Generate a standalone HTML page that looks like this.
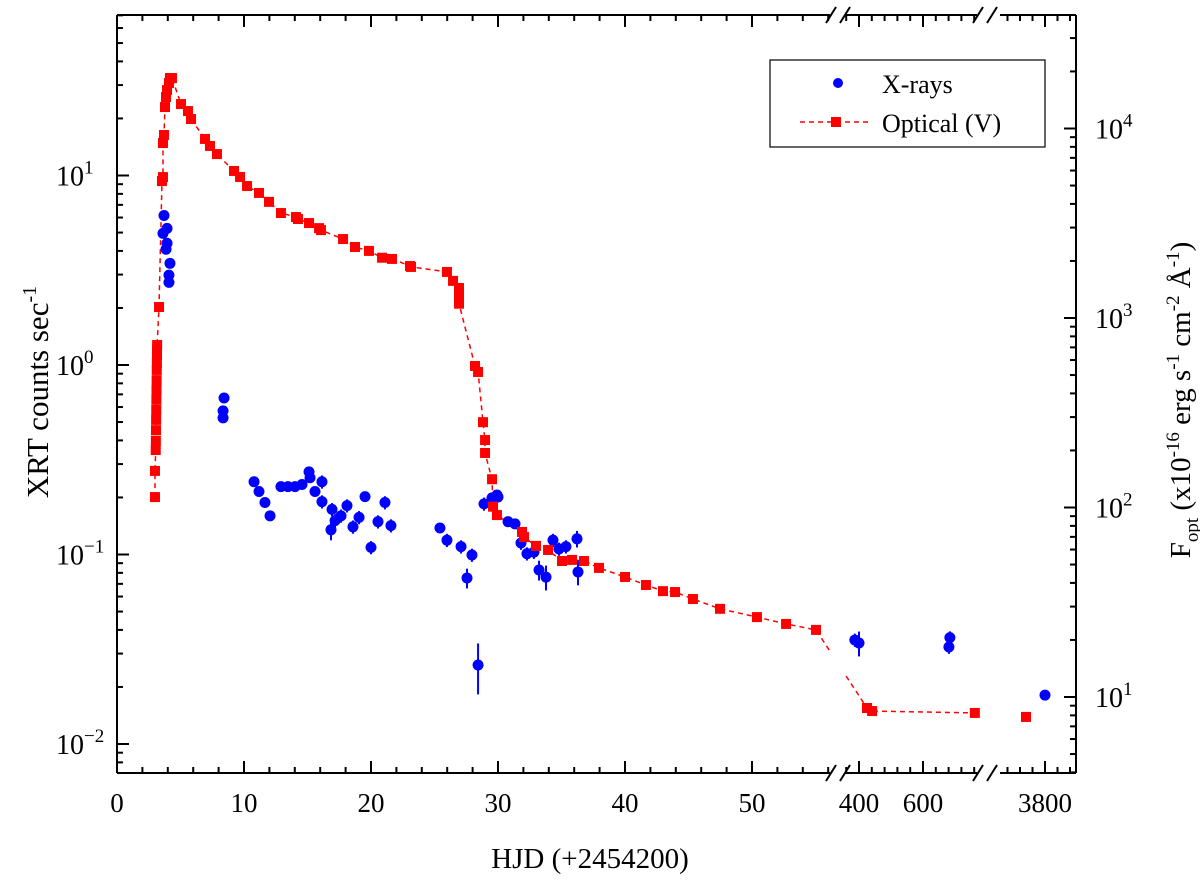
<!DOCTYPE html>
<html><head><meta charset="utf-8"><style>
body{margin:0;background:#fff}
svg text{font-family:"Liberation Serif",serif;fill:#000}
</style></head><body>
<svg id="chart" width="1200" height="883" viewBox="0 0 1200 883" xmlns="http://www.w3.org/2000/svg">
<defs>
<clipPath id="segclip"><rect x="117" y="15" width="713" height="758"/><rect x="845" y="15" width="132" height="758"/></clipPath>
</defs>
<g id="axes"></g>
<g id="marks"></g>
<g id="legend">
<rect x="770" y="60" width="275" height="87" fill="#fff" stroke="#000" stroke-width="1.2"/>
<circle cx="838" cy="83" r="5" fill="#0000ff"/>
<text x="882" y="93" font-size="26">X-rays</text>
<line x1="800" y1="122" x2="870" y2="122" stroke="#ff0000" stroke-width="1.5" stroke-dasharray="5,4"/>
<rect x="831" y="117" width="10" height="10" fill="#ff0000"/>
<text x="882" y="132" font-size="26">Optical (V)</text>
</g>
<text x="590" y="868" font-size="29" text-anchor="middle">HJD (+2454200)</text>
<text transform="translate(48,392) rotate(-90)" font-size="31" text-anchor="middle">XRT counts sec<tspan dy="-12" font-size="20">-1</tspan></text>
<text transform="translate(1190,400) rotate(-90)" font-size="29" text-anchor="middle">F<tspan dy="8" font-size="19">opt</tspan><tspan dy="-8"> (x10</tspan><tspan dy="-11" font-size="19">-16</tspan><tspan dy="11"> erg s</tspan><tspan dy="-11" font-size="19">-1</tspan><tspan dy="11"> cm</tspan><tspan dy="-11" font-size="19">-2</tspan><tspan dy="11"> Å</tspan><tspan dy="-11" font-size="19">-1</tspan><tspan dy="11">)</tspan></text>
</svg>
<script>
const xrayT=[3.70,3.94,3.62,3.94,3.86,4.17,4.09,4.09,8.43,8.35,8.35,10.79,11.18,11.65,12.05,12.91,13.46,14.02,14.57,15.12,15.20,15.59,16.14,16.14,16.93,16.85,17.17,17.64,18.11,18.58,19.06,19.53,20.0,20.55,21.10,21.57,25.43,25.98,27.09,27.95,27.56,28.43,28.90,29.53,29.92,30.0,30.79,31.34,31.81,32.28,32.83,33.23,33.78,34.33,34.80,35.35,36.22,36.30,387,400,681,684,3800];
const xrayV=[6.15,5.26,4.95,4.39,4.08,3.44,2.98,2.73,0.67,0.573,0.526,0.242,0.215,0.188,0.160,0.228,0.228,0.228,0.234,0.273,0.254,0.215,0.242,0.190,0.173,0.135,0.151,0.160,0.181,0.140,0.157,0.202,0.109,0.149,0.188,0.142,0.138,0.119,0.110,0.0994,0.0752,0.0261,0.185,0.199,0.206,0.201,0.149,0.145,0.115,0.101,0.103,0.0828,0.0760,0.119,0.107,0.110,0.121,0.0809,0.0354,0.0341,0.0325,0.0364,0.0181];
const xrayErr=[0.04,0.04,0.04,0.04,0.04,0.04,0.04,0.04,0.04,0.04,0.04,0.06,0.06,0.06,0.06,0.05,0.05,0.05,0.05,0.06,0.06,0.06,0.08,0.08,0.08,0.12,0.08,0.08,0.08,0.08,0.08,0.06,0.08,0.08,0.08,0.08,0.06,0.08,0.08,0.08,0.12,0.3,0.08,0.06,0.06,0.06,0.06,0.06,0.08,0.08,0.08,0.12,0.15,0.08,0.08,0.08,0.1,0.15,0.08,0.15,0.08,0.08,0.05];
const optT=[2.99,2.99,3.05,3.06,3.07,3.08,3.09,3.10,3.11,3.12,3.13,3.14,3.15,3.15,3.16,3.31,3.54,3.62,3.62,3.70,3.78,3.86,3.94,4.09,4.17,4.33,5.04,5.59,5.83,6.93,7.32,7.87,9.21,9.69,10.24,11.18,11.97,12.91,14.09,14.25,15.12,15.91,16.06,17.80,18.74,19.84,20.87,21.65,23.07,23.15,25.98,26.46,26.93,26.93,26.93,28.19,28.43,28.82,28.98,28.98,29.53,29.61,29.92,31.89,32.05,32.99,33.94,35.04,35.83,36.77,37.95,40.0,41.65,42.99,43.94,45.35,47.48,50.39,52.68,55.04,425,441,762,3724];
const optF=[113.5,156,201,225,256,290,327,370,417,470,532,580,638,680,720,1143,5280,5540,8380,9240,12980,14660,15950,17380,18460,18460,13460,12360,11220,8810,8090,7330,5970,5550,4970,4570,4100,3580,3410,3330,3170,2980,2910,2610,2370,2260,2080,2050,1880,1860,1750,1570,1440,1310,1190,558,519,282,227,194,141,101,91.2,74.3,69.8,62.7,59.7,52.2,52.9,52.2,48.0,43.0,39.0,36.2,35.8,32.9,29.2,26.4,24.3,22.6,8.75,8.43,8.24,7.85];
const optLinkedCount=83;
const xTickLabels=["0","10","20","30","40","50","400","600","3800"];
const xTickVals=[0,10,20,30,40,50,400,600,3800];
const yLeftLabels=["-2","-1","0","1"];
const yRightLabels=["1","2","3","4"];

const NS="http://www.w3.org/2000/svg";
function xS(t){ if(t<=60) return 117+12.7*t; if(t<1000) return 859+0.32*(t-400); return 1045+0.25*(t-3800); }
function yL(v){ return 365-189.5*Math.log10(v); }
function yR(v){ return 128.5+189.5*(4-Math.log10(v)); }
function mk(tag,attrs,parent){const e=document.createElementNS(NS,tag);for(const k in attrs)e.setAttribute(k,attrs[k]);parent.appendChild(e);return e;}
const axes=document.getElementById('axes'), marks=document.getElementById('marks');
const L=117,R=1076,T=15,B=773;
const sw={stroke:"#000","stroke-width":2,fill:"none"};
let e;
e=mk('line',Object.assign({x1:L,y1:T,x2:L,y2:B},sw),axes);


e=mk('line',Object.assign({x1:R,y1:T,x2:R,y2:B},sw),axes);


const segs=[[L,830],[845,977],[1000,R]];
for(const y of [T,B]){
  for(const s of segs){
    e=mk('line',Object.assign({x1:s[0],y1:y,x2:s[1],y2:y},sw),axes);
    
    
  }
  for(const bx of [826,840,973,987]){
    e=mk('line',{x1:bx,y1:y+8,x2:bx+10,y2:y-8,stroke:"#000","stroke-width":2},axes);
    
    
  }
}
function xtick(t,len){ const x=xS(t);
  mk('line',{x1:x,y1:B,x2:x,y2:B-len,stroke:"#000","stroke-width":2},axes);
  mk('line',{x1:x,y1:T,x2:x,y2:T+len,stroke:"#000","stroke-width":2},axes);}
for(let t=2;t<=56;t+=2) xtick(t,t%10===0?12:6);
for(let t=360;t<=760;t+=40) xtick(t,(t===400||t===600)?12:6);
for(let t=3650;t<=3900;t+=50) xtick(t,t===3800?12:6);
xTickVals.forEach((v,i)=>{
  e=mk('text',{x:xS(v),y:812,"font-size":27,"text-anchor":"middle"},axes);
  e.textContent=xTickLabels[i];
  
  
});
for(let d=-3;d<=1;d++){ for(let m=1;m<10;m++){ const v=m*Math.pow(10,d); const y=yL(v); if(y<T||y>B) continue;
  mk('line',{x1:L,y1:y,x2:L+(m===1?12:6),y2:y,stroke:"#000","stroke-width":2},axes);}}
for(let d=0;d<=4;d++){ for(let m=1;m<10;m++){ const v=m*Math.pow(10,d); const y=yR(v); if(y<T||y>B) continue;
  mk('line',{x1:R,y1:y,x2:R-(m===1?12:6),y2:y,stroke:"#000","stroke-width":2},axes);}}
yLeftLabels.forEach(p=>{
  const y=yL(Math.pow(10,+p));
  e=mk('text',{x:56,y:y+10,"font-size":28},axes);
  e.innerHTML='10<tspan dy="-12" font-size="19">'+p.replace('-','−')+'</tspan>';
  
  
});
yRightLabels.forEach(p=>{
  const y=yR(Math.pow(10,+p));
  e=mk('text',{x:1095,y:y+10,"font-size":28},axes);
  e.innerHTML='10<tspan dy="-12" font-size="19">'+p+'</tspan>';
  
  
});
let d='';
for(let i=0;i<optLinkedCount;i++){ d+=(i?'L':'M')+xS(optT[i]).toFixed(1)+','+yR(optF[i]).toFixed(1); }
e=mk('path',{d:d,fill:"none",stroke:"#ff0000","stroke-width":1.5,"stroke-dasharray":"5,4","clip-path":"url(#segclip)"},marks);


xrayT.forEach((t,i)=>{
  const x=xS(t),v=xrayV[i],er=xrayErr[i];
  const g=mk('g',{},marks);
  
  
  mk('line',{x1:x,y1:yL(v*(1+er)),x2:x,y2:yL(v*(1-er)),stroke:"#0000ff","stroke-width":2},g);
  mk('circle',{cx:x,cy:yL(v),r:5.5,fill:"#0000ff"},g);
});
optT.forEach((t,i)=>{
  e=mk('rect',{x:xS(t)-5,y:yR(optF[i])-5,width:10,height:10,fill:"#ff0000"},marks);
  
  
});
</script>
</body></html>
